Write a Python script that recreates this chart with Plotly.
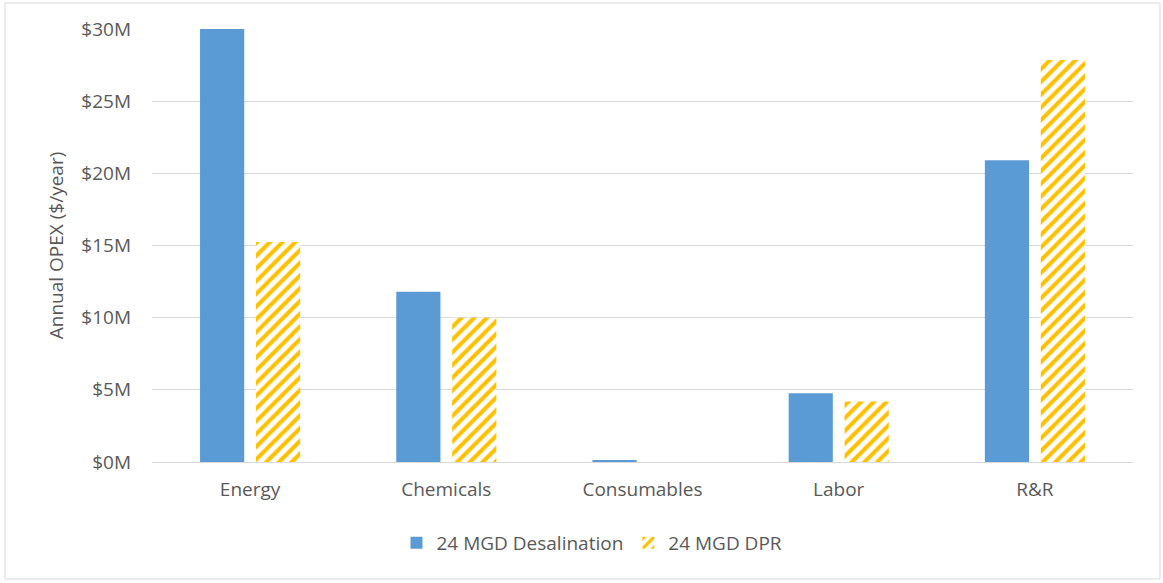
import plotly.graph_objects as go

categories = ["Energy", "Chemicals", "Consumables", "Labor", "R&R"]
desal = [30.0, 11.8, 0.14, 4.77, 20.9]
dpr = [15.25, 10.0, 0.0, 4.2, 27.85]
tick_vals = [0, 5, 10, 15, 20, 25, 30]
tick_text = ["$0M", "$5M", "$10M", "$15M", "$20M", "$25M", "$30M"]

L, R, T, B = 152, 30, 29, 121
W, H = 1163, 583
pw, ph = W - L - R, H - T - B

def px(x):
    return (x - L) / pw

def py(y):
    return (H - B - y) / ph

FONT = "Open Sans, Noto Sans, sans-serif"
TXT = "#595959"

fig = go.Figure()
fig.add_trace(go.Bar(
    x=categories, y=desal, name="24 MGD Desalination",
    marker=dict(color="#5B9BD5", line=dict(width=0)),
))
fig.add_trace(go.Bar(
    x=categories, y=dpr, name="24 MGD DPR",
    marker=dict(color="white", line=dict(width=0),
                pattern=dict(shape="/", fgcolor="#FFC000", bgcolor="white",
                             size=9, solidity=0.45, fillmode="replace")),
))

fig.update_layout(
    width=W, height=H,
    margin=dict(l=L, r=R, t=T, b=B),
    paper_bgcolor="white", plot_bgcolor="white",
    barmode="group", bargap=0.43, bargroupgap=0.21,
    font=dict(family=FONT, color=TXT, size=19),
    xaxis=dict(showgrid=False, showline=False, ticks="", zeroline=False,
               ticklabelstandoff=14,
               tickfont=dict(size=19, color=TXT)),
    yaxis=dict(range=[0, 30], tickvals=tick_vals, ticktext=tick_text,
               showgrid=True, gridcolor="#D9D9D9", gridwidth=1,
               zeroline=True, zerolinecolor="#D9D9D9", zerolinewidth=1,
               showline=False, ticks="", ticklabelstandoff=20,
               tickfont=dict(size=19, color=TXT),
               title=dict(text="Annual OPEX ($/year)", standoff=12,
                          font=dict(size=19, color=TXT))),
    legend=dict(orientation="h", x=px(592), xanchor="center", y=py(543), yanchor="middle",
                font=dict(size=19, color=TXT), itemwidth=30,
                traceorder="normal"),
    shapes=[dict(type="rect", xref="paper", yref="paper",
                 x0=px(5), x1=px(1160), y0=py(579), y1=py(3),
                 line=dict(color="#D9D9D9", width=1), fillcolor="rgba(0,0,0,0)",
                 layer="below")],
)

fig.write_html("out.html")
